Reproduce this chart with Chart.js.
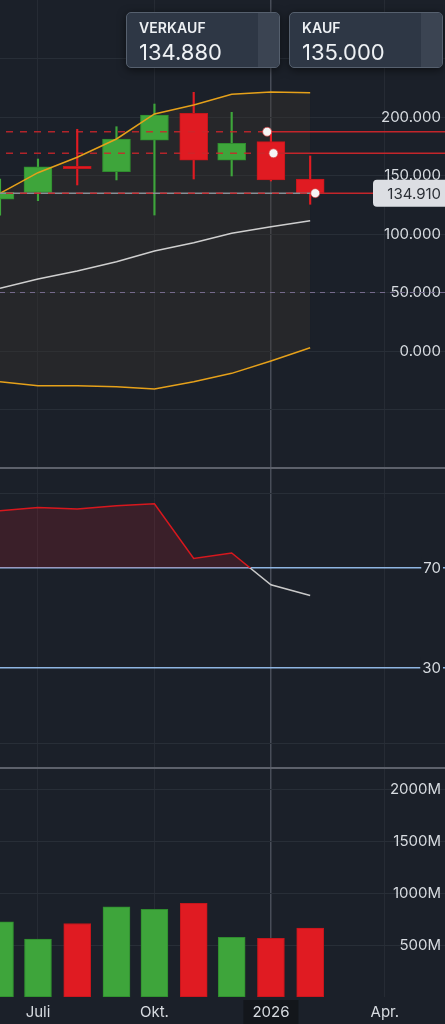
<!DOCTYPE html>
<html lang="de">
<head>
<meta charset="utf-8">
<title>Chart</title>
<script src="https://cdn.jsdelivr.net/npm/chart.js@4.4.1/dist/chart.umd.min.js"></script>
<style>
  html, body { margin: 0; padding: 0; background: #1b2029; }
  body { width: 445px; height: 1024px; overflow: hidden; position: relative; font-family: Inter, "Noto Sans", sans-serif; }
  #chart { position: absolute; left: 0; top: 0; }
  .btn { position: absolute; top: 12px; width: 154px; height: 56px; box-sizing: border-box; background: #2e3745; border: 1px solid #56606e; border-radius: 5px; box-shadow: 0 2px 8px rgba(0,0,0,0.55); overflow: hidden; color: #eef1f4; }
  .btn .strip { position: absolute; right: 0; top: 0; bottom: 0; width: 21px; background: #3b4452; }
  .btn .lbl { position: absolute; left: 12px; top: 6px; font-size: 14px; font-weight: 600; letter-spacing: 0.1px; }
  .btn .val { position: absolute; left: 12px; top: 26px; font-size: 22px; }
</style>
</head>
<body>
<canvas id="chart" width="445" height="1024"></canvas>
<div class="btn" style="left:126px"><div class="strip"></div><div class="lbl">VERKAUF</div><div class="val">134.880</div></div>
<div class="btn" style="left:289px"><div class="strip"></div><div class="lbl">KAUF</div><div class="val">135.000</div></div>
<script>
// monthly candles
const months = ['2025-06-01', '2025-07-01', '2025-08-01', '2025-09-01', '2025-10-01', '2025-11-01', '2025-12-01', '2026-01-01', '2026-02-01'];
const openP  = [129.7, 135.6, 157.8, 153.2, 180.3, 203.2, 163.2, 178.9, 147.0];
const highP  = [147.0, 164.1, 189.5, 191.7, 211.1, 221.1, 204.0, 188.0, 166.7];
const lowP   = [116.2, 128.5, 141.9, 146.2, 116.2, 147.0, 149.6, 145.3, 125.4];
const closeP = [135.6, 157.5, 155.8, 181.2, 201.7, 163.2, 177.5, 146.2, 134.91];

// bollinger bands
const bbUpper  = [134.8, 152.4, 165.6, 181.2, 202.6, 210.3, 219.4, 221.4, 220.8];
const bbMiddle = [53.6, 61.5, 68.4, 76.3, 85.5, 92.6, 100.6, 106.2, 111.4];
const bbLower  = [-26.2, -29.7, -29.7, -30.6, -32.5, -26.2, -19.1, -8.5, 2.8];

const rsiValues = [92.9, 94.2, 93.6, 94.9, 95.7, 73.8, 76.0, 63.3, 59.0];
const volumes = [725, 560, 709, 870, 847, 905, 577, 567, 664]; // millions

// order levels with markers
const orderLevels = [187.4, 169.0, 134.91];
const orderDates = ['2025-12-29', '2026-01-03', '2026-02-05'];
const lastPrice = 134.91;
const refLevel = 50;

const priceTicks = [-50, 0, 50, 100, 150, 200, 250];
const rsiTicks = [0, 30, 70, 100];
const rsiBands = [30, 70];
const volTicks = [500, 1000, 1500, 2000];
const timeTicks = ['2025-07-01', '2025-10-01', '2026-01-01', '2026-04-01'];
const timeTickLabels = ['Juli', 'Okt.', '2026', 'Apr.'];
const crosshairDate = '2026-01-01';
const viewStart = '2025-06-01';
const viewEnd = '2026-05-18T12:00:00Z';

const BG = '#1b2029';
const GRID = '#282e37';
const GREEN = '#3ea53b';
const RED = '#e01b22';
const ORANGE = '#e6a11a';
const LABEL = '#d7dbe0';
const FONT = { family: 'Inter', size: 15 };

const base = Date.UTC(2025, 5, 1);
function dayOf(s) { return (Date.parse(s) - base) / 86400000; }

const xMin = dayOf(viewStart);
const xMax = dayOf(viewEnd);
const xs = months.map(dayOf);
const isUp = openP.map((o, i) => closeP[i] >= o);
const candleCol = isUp.map(u => u ? GREEN : RED);
const candleEdge = isUp.map(u => u ? '#2f8c2e' : '#c4161c');

function series(vals) { return vals.map((v, i) => ({ x: xs[i], y: v })); }

const levelSets = [];
orderLevels.forEach((lvl, i) => {
  const dx = dayOf(orderDates[i]);
  levelSets.push({
    type: 'line', order: 1, yAxisID: 'y',
    data: [{ x: xMin, y: lvl }, { x: dx, y: lvl }],
    borderColor: 'rgba(205,38,42,0.85)', borderWidth: 1.5, borderDash: [7, 7], borderDashOffset: -6, pointRadius: 0
  });
  levelSets.push({
    type: 'line', order: 1, yAxisID: 'y',
    data: [{ x: dx, y: lvl }, { x: xMax, y: lvl }],
    borderColor: '#c4252a', borderWidth: 1.5, pointRadius: 0
  });
});

const panePlugin = {
  id: 'panes',
  afterDraw(chart) {
    const ctx = chart.ctx;
    ctx.save();
    ctx.strokeStyle = '#5d616b';
    ctx.lineWidth = 2;
    ['yRsi', 'yVol'].forEach(id => {
      const top = chart.scales[id].top;
      ctx.beginPath();
      ctx.moveTo(0, top);
      ctx.lineTo(chart.width, top);
      ctx.stroke();
    });
    // last price tag
    const y = chart.scales.y.getPixelForValue(lastPrice);
    ctx.fillStyle = '#dcdee3';
    ctx.beginPath();
    ctx.roundRect(373, y - 13.5, 80, 27, 4);
    ctx.fill();
    ctx.fillStyle = '#2b2f36';
    ctx.font = '15px Inter';
    ctx.textAlign = 'right';
    ctx.textBaseline = 'middle';
    ctx.fillText(lastPrice.toFixed(3), 441, y + 1);
    ctx.restore();
  }
};

function flatAxis(s) {
  s.width = 0;
  s.paddingTop = 0; s.paddingBottom = 0; s.paddingLeft = 0; s.paddingRight = 0;
}

const ctx = document.getElementById('chart').getContext('2d');
const chart = new Chart(ctx, {
  type: 'bar',
  data: {
    datasets: [
      // markers
      {
        type: 'line', order: 0, yAxisID: 'y', showLine: false,
        data: orderLevels.map((l, i) => ({ x: dayOf(orderDates[i]), y: l })),
        pointRadius: 4.5, pointBackgroundColor: '#f5f5f5', pointBorderColor: 'rgba(210,60,60,0.7)', pointBorderWidth: 1
      },
      ...levelSets,
      {
        type: 'line', order: 1.5, yAxisID: 'y',
        data: [{ x: xMin, y: lastPrice }, { x: xs[xs.length - 1], y: lastPrice }],
        borderColor: '#8a8d93', borderWidth: 1.5, pointRadius: 0
      },
      {
        type: 'line', order: 1.5, yAxisID: 'y',
        data: [{ x: xMin, y: refLevel }, { x: xMax, y: refLevel }],
        borderColor: '#756b8c', borderWidth: 1, borderDash: [5, 5], pointRadius: 0
      },
      // bollinger
      {
        type: 'line', order: 2, yAxisID: 'y', data: series(bbUpper),
        borderColor: ORANGE, borderWidth: 1.5, pointRadius: 0,
        fill: '+2', backgroundColor: 'rgba(58,52,44,0.36)'
      },
      {
        type: 'line', order: 2, yAxisID: 'y', data: series(bbMiddle),
        borderColor: '#cfcfcf', borderWidth: 1.5, pointRadius: 0, fill: false
      },
      {
        type: 'line', order: 2, yAxisID: 'y', data: series(bbLower),
        borderColor: ORANGE, borderWidth: 1.5, pointRadius: 0, fill: false
      },
      // candle bodies
      {
        type: 'bar', order: 3, yAxisID: 'y', grouped: false, barThickness: 28,
        data: openP.map((o, i) => ({ x: xs[i], y: [o, closeP[i]] })),
        backgroundColor: candleCol, borderColor: candleEdge, borderWidth: 1, borderSkipped: false
      },
      // wicks
      {
        type: 'bar', order: 4, yAxisID: 'y', grouped: false, barThickness: 1.5,
        data: lowP.map((l, i) => ({ x: xs[i], y: [l, highP[i]] })),
        backgroundColor: candleCol
      },
      // rsi
      {
        type: 'line', order: 2, yAxisID: 'yRsi', data: series(rsiValues),
        borderWidth: 1.5, pointRadius: 0,
        borderColor: function (c) {
          const ch = c.chart;
          const sc = ch.scales.yRsi;
          if (!ch.chartArea || !sc) return RED;
          const y70 = sc.getPixelForValue(70);
          const g = ch.ctx.createLinearGradient(0, sc.top, 0, sc.bottom);
          const stop = (y70 - sc.top) / (sc.bottom - sc.top);
          g.addColorStop(0, '#d8171d');
          g.addColorStop(stop, '#d8171d');
          g.addColorStop(stop, '#c9c9c9');
          g.addColorStop(1, '#c9c9c9');
          return g;
        },
        fill: { target: { value: 70 }, above: 'rgba(200,30,45,0.18)', below: 'rgba(0,0,0,0)' }
      },
      // volume
      {
        type: 'bar', order: 3, yAxisID: 'yVol', grouped: false, barThickness: 27,
        data: volumes.map((v, i) => ({ x: xs[i], y: v })),
        backgroundColor: candleCol, borderColor: candleEdge, borderWidth: 1, borderSkipped: false
      }
    ]
  },
  options: {
    responsive: false,
    animation: false,
    devicePixelRatio: 1,
    layout: { autoPadding: false, padding: 0 },
    plugins: {
      legend: { display: false },
      tooltip: { enabled: false },
      filler: { drawTime: 'beforeDatasetsDraw' }
    },
    scales: {
      x: {
        type: 'linear', position: 'bottom', min: xMin, max: xMax, offset: false,
        afterBuildTicks: s => { s.ticks = timeTicks.map(d => ({ value: dayOf(d) })); },
        afterFit: s => { s.height = 27; s.paddingLeft = 0; s.paddingRight = 0; },
        grid: {
          offset: false,
          drawTicks: false,
          color: c => (c.tick && c.tick.value === dayOf(crosshairDate)) ? '#484d58' : '#262b34',
          lineWidth: c => (c.tick && c.tick.value === dayOf(crosshairDate)) ? 1.5 : 1
        },
        border: { display: false },
        ticks: {
          autoSkip: false, maxRotation: 0, padding: 6, color: LABEL, font: FONT,
          callback: (v, i) => timeTickLabels[i],
          showLabelBackdrop: true,
          backdropPadding: { x: 9, y: 3 },
          backdropColor: c => (c.tick && c.tick.value === dayOf(crosshairDate)) ? '#13161b' : 'rgba(0,0,0,0)'
        }
      },
      y: {
        position: 'right', stack: 'panes', stackWeight: 468, min: -100, max: 300,
        afterBuildTicks: s => { s.ticks = priceTicks.map(v => ({ value: v })); },
        afterFit: flatAxis,
        grid: { drawTicks: false, color: GRID },
        border: { display: false },
        ticks: { mirror: true, padding: -4, color: LABEL, font: FONT, callback: v => v >= 0 ? v.toFixed(3) : '' }
      },
      yRsi: {
        position: 'right', stack: 'panes', stackWeight: 300, min: -10, max: 110,
        afterBuildTicks: s => { s.ticks = rsiTicks.map(v => ({ value: v })); },
        afterFit: flatAxis,
        grid: {
          drawTicks: false,
          color: c => (c.tick && rsiBands.includes(c.tick.value)) ? '#8fb5e2' : GRID,
          lineWidth: c => (c.tick && rsiBands.includes(c.tick.value)) ? 1.5 : 1
        },
        border: { display: false },
        ticks: {
          mirror: true, padding: -4, color: LABEL, font: FONT,
          callback: v => rsiBands.includes(v) ? String(v) : '',
          showLabelBackdrop: true,
          backdropPadding: { x: 2, y: 2 },
          backdropColor: c => (c.tick && rsiBands.includes(c.tick.value)) ? BG : 'rgba(0,0,0,0)'
        }
      },
      yVol: {
        position: 'right', stack: 'panes', stackWeight: 229, min: 0, max: 2210,
        afterBuildTicks: s => { s.ticks = volTicks.map(v => ({ value: v })); },
        afterFit: flatAxis,
        grid: { drawTicks: false, color: GRID },
        border: { display: false },
        ticks: { mirror: true, padding: -4, color: LABEL, font: FONT, callback: v => v + 'M' }
      }
    }
  },
  plugins: [panePlugin]
});
</script>
</body>
</html>
